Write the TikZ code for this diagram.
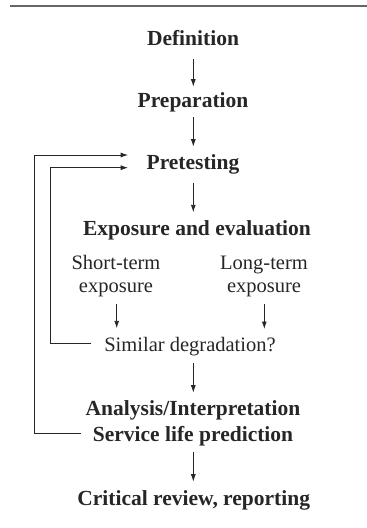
\documentclass[tikz,border=0pt]{standalone}
\usepackage{fontspec}
\setmainfont{Liberation Serif}
\usetikzlibrary{arrows.meta,calc}
\begin{document}
\begin{tikzpicture}[x=1pt,y=-1pt,
  boldtxt/.style={inner sep=0pt,anchor=base,font=\fontsize{21.5}{24}\selectfont\bfseries,text=black!85},
  regtxt/.style={inner sep=0pt,anchor=base,align=center,font=\fontsize{20.5}{23}\selectfont,text=black!85},
  arr/.style={draw=black!85,line width=0.9pt,-{Latex[length=7.5pt,width=5pt]}},
  fb/.style={draw=black!85,line width=0.9pt}]
\useasboundingbox (0,0) rectangle (367,528);
\coordinate (rl) at (10,6);
\coordinate (rr) at (367,6);
\draw[black!60,line width=1.6pt] (rl) -- (rr);

\node[boldtxt] (def) at (193,45) {Definition};
\node[boldtxt] (prep) at (193,107.3) {Preparation};
\node[boldtxt] (pret) at (193,169.3) {Pretesting};
\node[boldtxt] (expo) at (197,235) {Exposure and evaluation};
\node[regtxt] (short) at (116,292) {Short-term\\exposure};
\node[regtxt] (long) at (264,292) {Long-term\\exposure};
\node[regtxt] (sim) at (190,351) {Similar degradation?};
\node[boldtxt] (ana) at (193,415) {Analysis/Interpretation};
\node[boldtxt] (serv) at (193,441.7) {Service life prediction};
\node[boldtxt] (crit) at (193.7,505.7) {Critical review, reporting};

\draw[arr] ($(def.base)+(0.3,14.3)$) -- ($(prep.base)+(0.3,-20.6)$);
\draw[arr] ($(prep.base)+(0.3,9.7)$) -- ($(pret.base)+(0.3,-22.6)$);
\draw[arr] ($(pret.base)+(0.3,13.4)$) -- ($(expo.base)+(-3.7,-22.7)$);
\draw[arr] ($(short.base)+(0.7,12.3)$) -- ($(sim.base)+(-73.3,-22.7)$);
\draw[arr] ($(long.base)+(0.3,12)$) -- ($(sim.base)+(74.3,-22)$);
\draw[arr] ($(sim.base)+(3.3,12.3)$) -- ($(ana.base)+(0.3,-22.3)$);
\draw[arr] ($(serv.base)+(0.3,10)$) -- ($(crit.base)+(-0.4,-24)$);

\draw[fb,-{Latex[length=7.5pt,width=5pt]}] ($(sim.base west)+(-12.7,-8)$) -| ($(pret.base west)+(-96,-1.6)$) -- ($(pret.base west)+(-18.3,-1.6)$);
\draw[fb,-{Latex[length=7.5pt,width=5pt]}] ($(serv.base west)+(-12,-8.4)$) -| ($(pret.base west)+(-112.3,-14.3)$) -- ($(pret.base west)+(-18.3,-14.3)$);
\end{tikzpicture}
\end{document}
